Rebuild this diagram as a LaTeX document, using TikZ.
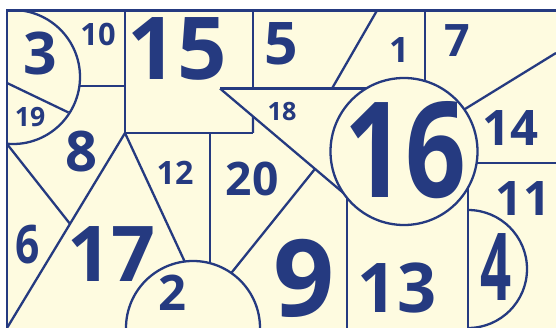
\documentclass[tikz,border=0pt]{standalone}
\usepackage{graphicx}
\usepackage{fontspec}
\setmainfont{Open Sans}
\usetikzlibrary{calc}
\definecolor{cream}{RGB}{254,251,224}
\definecolor{ink}{RGB}{37,58,128}
\newcommand{\fsz}[1]{\fontsize{#1}{#1}\selectfont\bfseries}
\begin{document}
\begin{tikzpicture}[x=1pt,y=-1pt,
  edge/.style={draw=ink,line width=2.3pt},
  disc/.style={fill=cream,draw=ink,line width=2.3pt},
  lab/.style={text=ink,inner sep=0pt}]
\useasboundingbox (0,0) rectangle (556,328);
\fill[white] (0,0) rectangle (556,328);
\fill[cream] (7,10.5) rectangle (556,328);
% coordinates
\coordinate (bl) at (7,328);
\coordinate (b) at (125,133);
\coordinate (d1) at (220,88.5);
\coordinate (d2) at (347,196);
\coordinate (p) at ($(d1)!0.748!(d2)$);
\coordinate (m) at ($(b)!0.466!(bl)$);
\begin{scope}
\clip (7,10.5) rectangle (556,328);
% straight boundaries
\draw[edge] (125,10.5) -- (b);
\draw[edge] (40,86) -- (125,86);
\draw[edge] (b) -- (253,133);
\draw[edge] (253,10.5) -- (253,88.5);
\draw[edge] ($(d1)!0.26!(d2)$) -- (253,133);
\draw[edge] (d1) -- (390,88.5);
\draw[edge] (d1) -- ($(d1)!1.05!(d2)$);
\draw[edge] (347,190) -- (347,328);
\draw[edge] (377,10.5) -- (332,88.5);
\draw[edge] (425,10.5) -- (425,100);
\draw[edge] (556,53) -- (440,124.4);
\draw[edge] (440,163) -- (556,163);
\draw[edge] (468,170) -- (468,328);
\draw[edge] (7,144) -- (m);
\draw[edge] (b) -- (bl);
\draw[edge] (b) -- (190,273);
\draw[edge] (210,133) -- (210,300);
\draw[edge] (p) -- (220,287);
% circles
\draw[disc] (404,151.5) circle[radius=73.5];
\draw[disc] (193,328) circle[radius=67];
\draw[disc] (13,77) circle[radius=67];
\draw[edge] (7,83) -- (68.5,112.5);
\begin{scope}
\clip (468,150) rectangle (556,328);
\draw[edge] (468,269) circle[radius=59];
\end{scope}
\end{scope}
% outer frame (top and left)
\draw[edge] (556,10.5) -- (7,10.5) -- (7,328);
% labels
\node[lab,font=\fsz{58.8}] (n3) at (40,54) {3};
\node[lab,font=\fsz{30.8}] (n10) at (98,34) {10};
\node[lab,font=\fsz{86.8}] (n15) at (177,49) {15};
\node[lab,font=\fsz{58.8}] (n5) at (281,44) {5};
\node[lab,font=\fsz{35}] (n1) at (399,50) {1};
\node[lab,font=\fsz{44.8}] (n7) at (457,41) {7};
\node[lab,font=\fsz{49}] (n14) at (510,128) {14};
\node[lab,font=\fsz{25.2}] (n18) at (282,112) {18};
\node[lab,font=\fsz{133}] (n16) at (405,150) {\scalebox{0.8}[1]{16}};
\node[lab,font=\fsz{26.6}] (n19) at (30,117) {19};
\node[lab,font=\fsz{56}] (n8) at (81,152) {8};
\node[lab,font=\fsz{32.2}] (n12) at (175,173) {12};
\node[lab,font=\fsz{46.2}] (n20) at (252,178.5) {20};
\node[lab,font=\fsz{53.2}] (n6) at (28,245) {\scalebox{0.8}[1]{6}};
\node[lab,font=\fsz{77}] (n17) at (111,254) {17};
\node[lab,font=\fsz{49}] (n2) at (172,293) {2};
\node[lab,font=\fsz{107}] (n9) at (304,278) {9};
\node[lab,font=\fsz{68.6}] (n13) at (397,288) {13};
\node[lab,font=\fsz{47.6}] (n11) at (523,199) {11};
\node[lab,font=\fsz{93.8}] (n4) at (496,267) {\scalebox{0.58}[1]{4}};
\end{tikzpicture}
\end{document}
